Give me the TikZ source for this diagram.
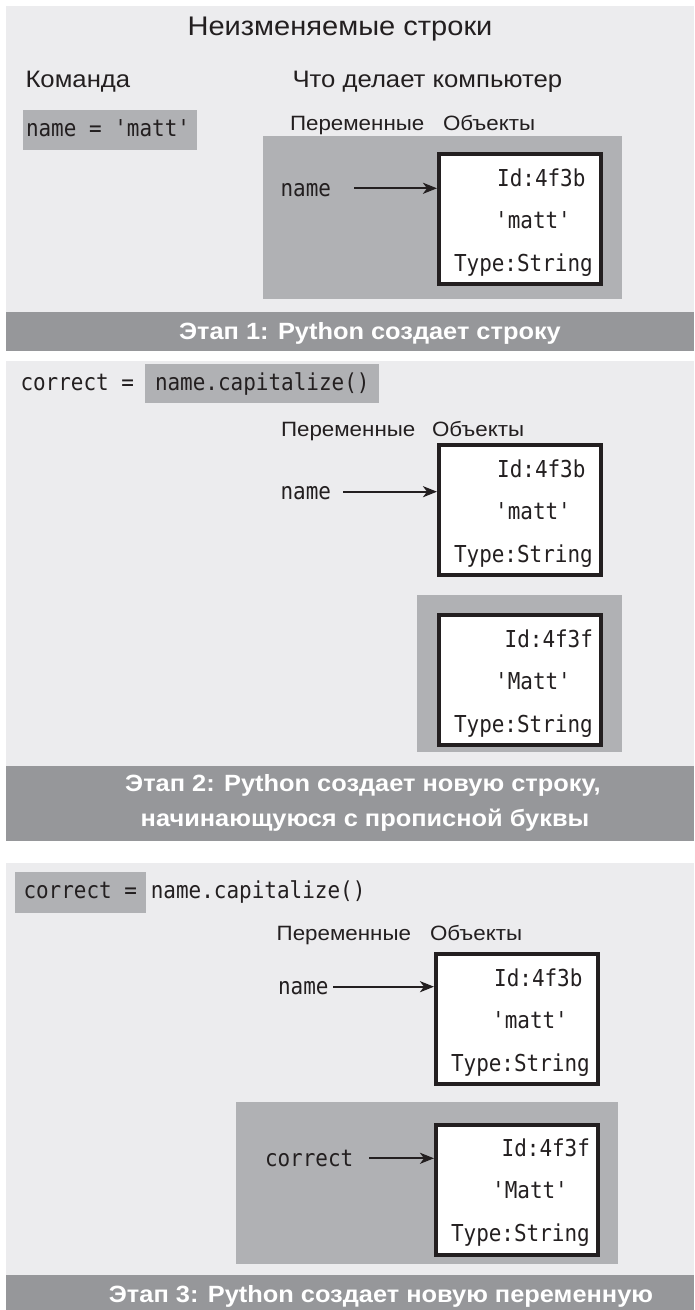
\documentclass[tikz,border=0pt]{standalone}
\usepackage{fontspec}
\setmainfont{Liberation Sans}
\newfontfamily\regf{Liberation Sans}[FakeStretch=1.08]
\newfontfamily\bannerf{Liberation Sans}[FakeStretch=1.08]
\newfontfamily\codef{DejaVu Sans Mono}[FakeStretch=0.9]
\usetikzlibrary{arrows.meta}
\definecolor{ink}{HTML}{231F20}
\definecolor{light}{HTML}{ECECEE}
\definecolor{panel}{HTML}{B0B1B4}
\definecolor{bannerc}{HTML}{96979A}
\tikzset{
  txt/.style={inner sep=0pt, outer sep=0pt, text=ink},
  titletxt/.style={txt, font=\regf\fontsize{26.9}{32}\selectfont, anchor=base},
  head/.style={txt, font=\regf\fontsize{23.8}{28}\selectfont, anchor=base west},
  lab/.style={txt, font=\regf\fontsize{20.7}{24}\selectfont, anchor=base west},
  code/.style={txt, font=\codef\fontsize{23.3}{27}\selectfont, anchor=base west},
  bantxt/.style={txt, text=white, font=\bannerf\bfseries\fontsize{23.5}{28}\selectfont, anchor=base},
  obj/.style={draw=ink, line width=4pt, fill=white, minimum width=162pt, minimum height=130pt, inner sep=0pt, outer sep=0pt, anchor=north west},
  arr/.style={draw=ink, line width=2.2pt, shorten >=2pt, -{Stealth[length=14pt,width=11pt,inset=4pt]}},
  panelbox/.style={fill=panel},
  bannerbox/.style={fill=bannerc},
}
\begin{document}
\begin{tikzpicture}[x=1pt,y=-1pt]
\useasboundingbox (0,0) rectangle (694,1310);
% background
\fill[white] (0,0) rectangle (694,1310);
\fill[light] (6,6) rectangle (694,1310);
\fill[white] (6,350.7) rectangle (694,361);
\fill[white] (6,840.7) rectangle (694,863);
% banners
\fill[bannerbox] (6,311.7) rectangle (694,350.7);
\fill[bannerbox] (6,766) rectangle (694,840.7);
\fill[bannerbox] (6,1275) rectangle (694,1310);
% panels and command highlights
\fill[panelbox] (263,136) rectangle (622,299);
\fill[panelbox] (417,595) rectangle (622,752);
\fill[panelbox] (236,1102) rectangle (618,1264);
\fill[panelbox] (22.7,110) rectangle (196.7,150);
\fill[panelbox] (145,364.3) rectangle (379,402.7);
\fill[panelbox] (15,872) rectangle (146,912.7);

% ---------- Stage 1 ----------
\node[titletxt] (title) at (340,35) {Неизменяемые строки};
\node[head] (cmdh) at (25.5,87) {Команда};
\node[head] (comph) at (292.5,87) {Что делает компьютер};
\node[code] (cmd1) at (26,136) {name = 'matt'};
\node[lab] (var1) at (290,130) {Переменные};
\node[lab] (objl1) at (443,130) {Объекты};
\node[obj] (b1) at (439,154) {};
\node[code, anchor=base east] (b1id) at ([xshift=-15.5pt,yshift=-32pt]b1.north east) {Id:4f3b};
\node[code, anchor=base] (b1val) at ([xshift=13pt,yshift=-74pt]b1.north) {'matt'};
\node[code] (b1type) at ([xshift=15pt,yshift=-117pt]b1.north west) {Type:String};
\node[code] (n1) at (280.5,196) {name};
\coordinate (a1) at (354,188.3);
\draw[arr] (a1) -- (a1 -| b1.west);
\node[bantxt] (ban1) at (370,339) {Этап 1: Python создает строку};

% ---------- Stage 2 ----------
\node[code] (cmd2a) at (20.5,390) {correct =};
\node[code] (cmd2b) at (155,390) {name.capitalize()};
\node[lab] (var2) at (281,436) {Переменные};
\node[lab] (objl2) at (432,436) {Объекты};
\node[obj] (b2) at (439,445) {};
\node[code, anchor=base east] (b2id) at ([xshift=-15.5pt,yshift=-32pt]b2.north east) {Id:4f3b};
\node[code, anchor=base] (b2val) at ([xshift=13pt,yshift=-74pt]b2.north) {'matt'};
\node[code] (b2type) at ([xshift=15pt,yshift=-117pt]b2.north west) {Type:String};
\node[code] (n2) at (280.5,499) {name};
\coordinate (a2) at (343.3,491.7);
\draw[arr] (a2) -- (a2 -| b2.west);
\node[obj] (b3) at (439,615) {};
\node[code, anchor=base east] (b3id) at ([xshift=-8pt,yshift=-32pt]b3.north east) {Id:4f3f};
\node[code, anchor=base] (b3val) at ([xshift=13pt,yshift=-74pt]b3.north) {'Matt'};
\node[code] (b3type) at ([xshift=15pt,yshift=-117pt]b3.north west) {Type:String};
\node[bantxt] (ban2a) at (363,791) {Этап 2: Python создает новую строку,};
\node[bantxt] (ban2b) at (365,826) {начинающуюся с прописной буквы};

% ---------- Stage 3 ----------
\node[code] (cmd3a) at (23.5,898.5) {correct =};
\node[code] (cmd3b) at (150.8,898.5) {name.capitalize()};
\node[lab] (var3) at (276.7,940) {Переменные};
\node[lab] (objl3) at (430,940) {Объекты};
\node[obj] (b4) at (436,954) {};
\node[code, anchor=base east] (b4id) at ([xshift=-15.5pt,yshift=-32pt]b4.north east) {Id:4f3b};
\node[code, anchor=base] (b4val) at ([xshift=13pt,yshift=-74pt]b4.north) {'matt'};
\node[code] (b4type) at ([xshift=15pt,yshift=-117pt]b4.north west) {Type:String};
\node[code] (n4) at (278,994) {name};
\coordinate (a4) at (333.3,986.7);
\draw[arr] (a4) -- (a4 -| b4.west);
\node[obj] (b5) at (436,1124.5) {};
\node[code, anchor=base east] (b5id) at ([xshift=-8pt,yshift=-32pt]b5.north east) {Id:4f3f};
\node[code, anchor=base] (b5val) at ([xshift=13pt,yshift=-74pt]b5.north) {'Matt'};
\node[code] (b5type) at ([xshift=15pt,yshift=-117pt]b5.north west) {Type:String};
\node[code] (n5) at (265,1166) {correct};
\coordinate (a5) at (369.3,1158.3);
\draw[arr] (a5) -- (a5 -| b5.west);
\node[bantxt] (ban3) at (381,1302) {Этап 3: Python создает новую переменную};
\end{tikzpicture}
\end{document}
